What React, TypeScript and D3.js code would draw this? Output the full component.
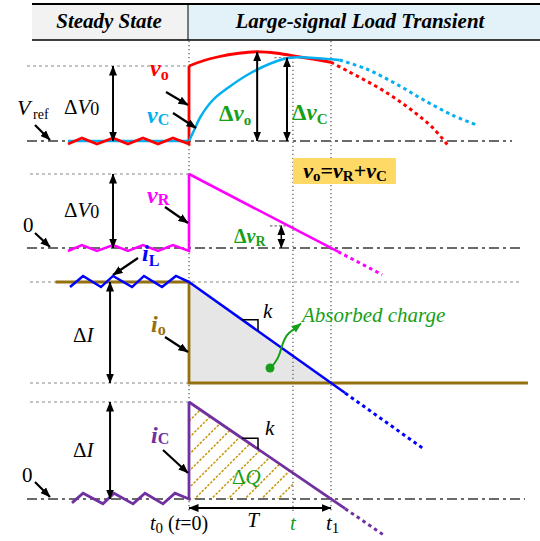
import React from "react";
import * as d3 from "d3";

type P = [number, number];

// Time is expressed in units of T, measured from the load step t0 (t0 = 0, t1 = 1).
const tMark = 0.732;

// Panel 1: output voltage vo and capacitor voltage vC (units of ΔV0 above Vref)
const voSteady: P[] = [
  [-0.852, -0.04], [-0.754, 0.04], [-0.648, -0.04], [-0.535, 0.04], [-0.43, -0.04],
  [-0.324, 0.04], [-0.218, -0.04], [-0.113, 0.04], [0, -0.04], [0, 1.0],
];
const voSolid: P[] = [
  [0, 1.0], [0.1, 1.07], [0.2, 1.12], [0.35, 1.17], [0.48, 1.19], [0.62, 1.17], [0.78, 1.12], [1.0, 1.05],
];
const voDotted: P[] = [
  [1.0, 1.05], [1.13, 0.92], [1.25, 0.8], [1.37, 0.67], [1.49, 0.52], [1.61, 0.35], [1.72, 0.17], [1.82, -0.05],
];
const vcSteady: P[] = [[-0.852, 0], [0, 0]];
const vcSolid: P[] = [
  [0, 0], [0.035, 0.14], [0.08, 0.32], [0.17, 0.55], [0.29, 0.73], [0.41, 0.88], [0.57, 1.03],
  [0.71, 1.11], [0.86, 1.11], [1.0, 1.09], [1.06, 1.08],
];
const vcDotted: P[] = [
  [1.06, 1.08], [1.25, 0.96], [1.45, 0.77], [1.65, 0.55], [1.85, 0.35], [2.03, 0.21],
];
const dVoAt = 0.48;
const dVoPeak = 1.19;
const dVcAt = 0.69;
const dVcPeak = 1.11;

// Panel 2: resistor voltage vR (units of ΔV0)
const vrSteady: P[] = [
  [-0.852, -0.04], [-0.754, 0.04], [-0.648, -0.04], [-0.535, 0.04], [-0.43, -0.04],
  [-0.324, 0.04], [-0.218, -0.04], [-0.113, 0.04], [0, -0.04], [0, 1.0],
];
const vrSolid: P[] = [[0, 1.0], [1.05, -0.05]];
const vrDotted: P[] = [[1.05, -0.05], [1.36, -0.36]];
const dVrAt = 0.65;
const dVrTop = 0.3;

// Panel 3: inductor current iL and load current io (units of ΔI)
const ilSteady: P[] = [
  [-0.838, 0.95], [-0.746, 1.06], [-0.62, 0.95], [-0.535, 1.06], [-0.401, 0.95],
  [-0.317, 1.06], [-0.19, 0.95], [-0.092, 1.06], [0, 1.0],
];
const ilSolid: P[] = [[0, 1.0], [1.1, -0.1]];
const ilDotted: P[] = [[1.1, -0.1], [1.65, -0.65]];
const ioPath: P[] = [[-0.94, 1], [0, 1], [0, 0], [2.387, 0]];
const absorbed: P[] = [[0, 1], [1, 0], [0, 0]];

// Panel 4: capacitor current iC (units of ΔI)
const icSteady: P[] = [
  [-0.824, -0.04], [-0.746, 0.06], [-0.606, -0.05], [-0.528, 0.06], [-0.394, -0.05],
  [-0.31, 0.06], [-0.183, -0.05], [-0.099, 0.06], [0, 0], [0, 1.0],
];
const icSolid: P[] = [[0, 1.0], [1.1, -0.1]];
const icDotted: P[] = [[1.1, -0.1], [1.37, -0.37]];
const chargeArea: P[] = [[0, 1], [tMark, 1 - tMark], [tMark, 0], [0, 0]];
const slopeMark: number[] = [0.373, 0.486];

// Horizontal extents of reference lines (time units)
const tGuideLeft = -1.141;
const tGuideLeft2 = -1.12;
const tZero1Right = 2.275;
const tZero2Right = 2.345;
const tTop3Right = 2.345;
const tZero4Right = 2.366;

const W = 540;
const H = 541;

const x = d3.scaleLinear().domain([0, 1]).range([189, 331]);
const y1 = d3.scaleLinear().domain([0, 1]).range([141, 66]);
const y2 = d3.scaleLinear().domain([0, 1]).range([248, 174]);
const y3 = d3.scaleLinear().domain([0, 1]).range([383, 282]);
const y4 = d3.scaleLinear().domain([0, 1]).range([499, 402]);

const SERIF = "'Liberation Serif', 'Times New Roman', serif";
const RED = "#ff0000";
const CYAN = "#00b0f0";
const MAGENTA = "#ff00ff";
const BLUE = "#0000ff";
const BROWN = "#94700f";
const PURPLE = "#7030a0";
const GREEN = "#17a017";
const GOLD = "#c8960a";
const GRAY = "#6a6a6a";

const mk = (ys: d3.ScaleLinear<number, number>, curve: d3.CurveFactory = d3.curveLinear) =>
  d3.line<P>().x((d) => x(d[0])).y((d) => ys(d[1])).curve(curve);

const DOTTED = "3 3";
const DASHDOT = "10 4 3 4";
const CURVE_DOTS = "3.5 3.5";

function HLine({ t0, t1, y, dash, w = 1.2, color = "#888" }: any) {
  return <line x1={x(t0)} x2={x(t1)} y1={y} y2={y} stroke={color} strokeWidth={w} strokeDasharray={dash} />;
}

function Arrow({ x1, y1: a, x2, y2: b, both = false, w = 2, head = "ah-k" }: any) {
  return (
    <line
      x1={x1}
      y1={a}
      x2={x2}
      y2={b}
      stroke={head === "ah-g" ? GREEN : "#000"}
      strokeWidth={w}
      markerEnd={`url(#${head})`}
      markerStart={both ? `url(#${head})` : undefined}
    />
  );
}

export default function App() {
  // hatch lines for the ΔQ region, at 45°
  const hatch: number[] = d3.range(560, 820, 16.7);

  const cutPath = d3
    .line<P>()
    .x((d) => x(d[0]))
    .y((d) => y4(d[1]));

  return (
    <svg
      width={W}
      height={H}
      viewBox={`0 0 ${W} ${H}`}
      style={{ position: "absolute", left: 0, top: 0, background: "#fff" }}
      fontFamily={SERIF}
    >
      <defs>
        <marker id="ah-k" viewBox="0 0 10 8" refX="9.5" refY="4" markerWidth="10" markerHeight="8"
          markerUnits="userSpaceOnUse" orient="auto-start-reverse">
          <path d="M0,0 L10,4 L0,8 Z" fill="#000" />
        </marker>
        <marker id="ah-g" viewBox="0 0 10 8" refX="9.5" refY="4" markerWidth="10" markerHeight="9"
          markerUnits="userSpaceOnUse" orient="auto">
          <path d="M0,0 L10,4 L0,8 Z" fill={GREEN} />
        </marker>
        <clipPath id="charge-clip">
          <path d={cutPath(chargeArea)! + "Z"} />
        </clipPath>
      </defs>

      {/* header band */}
      <rect x={32} y={4} width={188 - 32} height={36} fill="#f2f2f2" />
      <rect x={188} y={4} width={W - 188} height={36} fill="#e3f1f8" />
      <line x1={32} x2={W} y1={4} y2={4} stroke="#000" strokeWidth={2} />
      <line x1={32} x2={W} y1={40} y2={40} stroke="#000" strokeWidth={1.5} />
      <line x1={188} x2={188} y1={4} y2={40} stroke="#000" strokeWidth={1} />
      <text x={109} y={28} textAnchor="middle" fontSize={21} fontWeight="bold" fontStyle="italic">Steady State</text>
      <text x={360} y={28} textAnchor="middle" fontSize={21} fontWeight="bold" fontStyle="italic">Large-signal Load Transient</text>

      {/* absorbed charge area and ΔQ hatch */}
      <path d={mk(y3)(absorbed)! + "Z"} fill="#e6e6e6" />
      <g clipPath="url(#charge-clip)">
        {hatch.map((c, i) => (
          <line key={i} x1={c - 520} y1={520} x2={c - 380} y2={380} stroke={GOLD} strokeWidth={1.5} strokeDasharray="2.5 1.5" />
        ))}
      </g>

      {/* time markers */}
      <line x1={x(0)} x2={x(0)} y1={41} y2={512} stroke="#555" strokeWidth={1.2} strokeDasharray="1.2 2.8" />
      <line x1={x(tMark)} x2={x(tMark)} y1={y1(dVcPeak)} y2={513} stroke="#555" strokeWidth={1.2} strokeDasharray="1.2 2.8" />
      <line x1={x(1)} x2={x(1)} y1={41} y2={512} stroke="#555" strokeWidth={1.2} strokeDasharray="1.2 2.8" />

      {/* reference levels */}
      <HLine t0={tGuideLeft} t1={0} y={y1(1)} dash={DOTTED} />
      <HLine t0={tGuideLeft} t1={tZero1Right} y={y1(0)} dash={DASHDOT} w={2} color={GRAY} />
      <HLine t0={tGuideLeft2} t1={0} y={y2(1)} dash={DOTTED} />
      <HLine t0={tGuideLeft} t1={tZero2Right} y={y2(0)} dash={DASHDOT} w={2} color={GRAY} />
      <HLine t0={tGuideLeft2} t1={tTop3Right} y={y3(1)} dash={DOTTED} />
      <HLine t0={tGuideLeft2} t1={0} y={y3(0)} dash={DOTTED} />
      <HLine t0={tGuideLeft2} t1={0} y={y4(1)} dash={DOTTED} />
      <HLine t0={tGuideLeft} t1={tZero4Right} y={y4(0)} dash={DASHDOT} w={2} color={GRAY} />
      <HLine t0={0.6} t1={tMark} y={y1(dVcPeak)} dash="2.5 2" color="#777" />
      <HLine t0={0.57} t1={tMark} y={y2(dVrTop)} dash="2.5 2" color="#777" />

      {/* panel 1 */}
      <path d={mk(y1)(vcSteady)!} fill="none" stroke={CYAN} strokeWidth={2.5} />
      <path d={mk(y1)(voSteady)!} fill="none" stroke={RED} strokeWidth={2.8} strokeLinejoin="miter" />
      <path d={mk(y1, d3.curveCatmullRom)(voSolid)!} fill="none" stroke={RED} strokeWidth={2.8} />
      <path d={mk(y1, d3.curveCatmullRom)(voDotted)!} fill="none" stroke={RED} strokeWidth={3} strokeDasharray={CURVE_DOTS} />
      <path d={mk(y1, d3.curveCatmullRom)(vcSolid)!} fill="none" stroke={CYAN} strokeWidth={2.5} />
      <path d={mk(y1, d3.curveCatmullRom)(vcDotted)!} fill="none" stroke={CYAN} strokeWidth={3} strokeDasharray={CURVE_DOTS} />

      {/* panel 2 */}
      <path d={mk(y2)(vrSteady)!} fill="none" stroke={MAGENTA} strokeWidth={2.6} />
      <path d={mk(y2)(vrSolid)!} fill="none" stroke={MAGENTA} strokeWidth={2.6} />
      <path d={mk(y2)(vrDotted)!} fill="none" stroke={MAGENTA} strokeWidth={3} strokeDasharray={CURVE_DOTS} />

      {/* panel 3 */}
      <path d={mk(y3)(ioPath)!} fill="none" stroke={BROWN} strokeWidth={2.8} />
      <path d={mk(y3)(ilSteady)!} fill="none" stroke={BLUE} strokeWidth={2.5} />
      <path d={mk(y3)(ilSolid)!} fill="none" stroke={BLUE} strokeWidth={2.5} />
      <path d={mk(y3)(ilDotted)!} fill="none" stroke={BLUE} strokeWidth={3} strokeDasharray={CURVE_DOTS} />
      <path
        d={`M${x(slopeMark[0])},${y3(1 - slopeMark[0])} H${x(slopeMark[1])} V${y3(1 - slopeMark[1])}`}
        fill="none" stroke="#000" strokeWidth={1.5}
      />

      {/* panel 4 */}
      <path d={mk(y4)(icSteady)!} fill="none" stroke={PURPLE} strokeWidth={2.8} />
      <path d={mk(y4)(icSolid)!} fill="none" stroke={PURPLE} strokeWidth={2.8} />
      <path d={mk(y4)(icDotted)!} fill="none" stroke={PURPLE} strokeWidth={3} strokeDasharray={CURVE_DOTS} />
      <path
        d={`M${x(slopeMark[0])},${y4(1 - slopeMark[0])} H${x(slopeMark[1])} V${y4(1 - slopeMark[1])}`}
        fill="none" stroke="#000" strokeWidth={1.5}
      />

      {/* magnitude arrows */}
      <Arrow x1={x(-0.535)} y1={y1(1)} x2={x(-0.535)} y2={y1(0)} both />
      <Arrow x1={x(dVoAt)} y1={y1(dVoPeak)} x2={x(dVoAt)} y2={y1(0)} both />
      <Arrow x1={x(dVcAt)} y1={y1(dVcPeak)} x2={x(dVcAt)} y2={y1(0)} both />
      <Arrow x1={x(-0.535)} y1={y2(1)} x2={x(-0.535)} y2={y2(0)} both />
      <Arrow x1={x(dVrAt)} y1={y2(dVrTop)} x2={x(dVrAt)} y2={y2(0)} both w={1.5} />
      <Arrow x1={x(-0.556)} y1={y3(1)} x2={x(-0.556)} y2={y3(0)} both />
      <Arrow x1={x(-0.556)} y1={y4(1)} x2={x(-0.556)} y2={y4(0)} both />
      <Arrow x1={x(0)} y1={508} x2={x(1)} y2={508} both />

      {/* label pointers */}
      <Arrow x1={35} y1={125} x2={50} y2={140} w={2.2} />
      <Arrow x1={166} y1={92} x2={188} y2={105} w={2.2} />
      <Arrow x1={173} y1={113} x2={196} y2={128} w={2.2} />
      <Arrow x1={35} y1={233} x2={50} y2={247} w={2.2} />
      <Arrow x1={165} y1={207} x2={188} y2={223} w={2.2} />
      <Arrow x1={138} y1={258} x2={113} y2={275} w={2.2} />
      <Arrow x1={165} y1={337} x2={188} y2={352} w={2.2} />
      <Arrow x1={163} y1={450} x2={188} y2={473} w={2.2} />
      <Arrow x1={35} y1={482} x2={50} y2={497} w={2.2} />

      {/* absorbed charge callout */}
      <circle cx={270} cy={368} r={4.5} fill={GREEN} />
      <path d="M270,368 C284,356 279,342 289,333 L301,323.5" fill="none" stroke={GREEN} strokeWidth={2} markerEnd="url(#ah-g)" />
      <text x={302} y={322} fontSize={21} fontStyle="italic" fill={GREEN}>Absorbed charge</text>

      {/* formula box */}
      <rect x={x(tMark)} y={158} width={103} height={26} fill="#ffd966" />
      <text x={345} y={178} textAnchor="middle" fontSize={22} fontWeight="bold">
        <tspan fontStyle="italic">v</tspan><tspan fontSize={15} dy={3}>o</tspan>
        <tspan dy={-3}>=</tspan><tspan fontStyle="italic">v</tspan><tspan fontSize={15} dy={3}>R</tspan>
        <tspan dy={-3}>+</tspan><tspan fontStyle="italic">v</tspan><tspan fontSize={15} dy={3}>C</tspan>
      </text>

      {/* axis-style labels */}
      <text x={17} y={115} fontSize={22} fontStyle="italic">V</text>
      <text x={33} y={119} fontSize={14}>ref</text>
      <text x={64} y={114} fontSize={21}>Δ<tspan fontStyle="italic">V</tspan><tspan fontSize={18} dy={1}>0</tspan></text>
      <text x={64} y={217} fontSize={21}>Δ<tspan fontStyle="italic">V</tspan><tspan fontSize={18} dy={1}>0</tspan></text>
      <text x={23} y={232} fontSize={21}>0</text>
      <text x={73} y={342} fontSize={21}>Δ<tspan fontStyle="italic">I</tspan></text>
      <text x={73} y={457} fontSize={21}>Δ<tspan fontStyle="italic">I</tspan></text>
      <text x={22} y={482} fontSize={21}>0</text>

      {/* signal names */}
      <text x={150} y={76} fontSize={24} fontWeight="bold" fill={RED}>
        <tspan fontStyle="italic">v</tspan><tspan fontSize={16} dy={4}>o</tspan>
      </text>
      <text x={147} y={123} fontSize={24} fontWeight="bold" fill={CYAN}>
        <tspan fontStyle="italic">v</tspan><tspan fontSize={16} dy={2}>C</tspan>
      </text>
      <text x={147} y={203} fontSize={24} fontWeight="bold" fill={MAGENTA}>
        <tspan fontStyle="italic">v</tspan><tspan fontSize={16} dy={2}>R</tspan>
      </text>
      <text x={142} y={261} fontSize={24} fontWeight="bold" fill={BLUE}>
        <tspan fontStyle="italic">i</tspan><tspan fontSize={16} dy={5}>L</tspan>
      </text>
      <text x={151} y={332} fontSize={24} fontWeight="bold" fill={BROWN}>
        <tspan fontStyle="italic">i</tspan><tspan fontSize={16} dy={3}>o</tspan>
      </text>
      <text x={151} y={443} fontSize={24} fontWeight="bold" fill={PURPLE}>
        <tspan fontStyle="italic">i</tspan><tspan fontSize={16} dy={1}>C</tspan>
      </text>
      <text x={219} y={121} fontSize={23} fontWeight="bold" fill={GREEN}>
        Δ<tspan fontStyle="italic">v</tspan><tspan fontSize={15} dy={4}>o</tspan>
      </text>
      <text x={292} y={120} fontSize={23} fontWeight="bold" fill={GREEN}>
        Δ<tspan fontStyle="italic">v</tspan><tspan fontSize={15} dy={4}>C</tspan>
      </text>
      <text x={234} y={243} fontSize={20} fontWeight="bold" fill={GREEN}>
        Δ<tspan fontStyle="italic">v</tspan><tspan fontSize={14} dy={3}>R</tspan>
      </text>
      <text x={232} y={484} fontSize={21} fill={GREEN}>
        Δ<tspan fontStyle="italic">Q</tspan>
      </text>
      <text x={263} y={318} fontSize={21} fontStyle="italic">k</text>
      <text x={265} y={435} fontSize={21} fontStyle="italic">k</text>

      {/* time labels */}
      <text x={150} y={530} fontSize={20}>
        <tspan fontStyle="italic">t</tspan><tspan fontSize={15} dy={3}>0</tspan>
        <tspan dy={-3}> (</tspan><tspan fontStyle="italic">t</tspan>=0)
      </text>
      <text x={253} y={527} fontSize={21} fontStyle="italic" textAnchor="middle">T</text>
      <text x={x(tMark)} y={530} fontSize={21} fontStyle="italic" fill={GREEN} textAnchor="middle">t</text>
      <text x={x(1) - 5} y={530} fontSize={21} fontStyle="italic">t<tspan fontStyle="normal" fontSize={15} dy={3}>1</tspan></text>
    </svg>
  );
}
